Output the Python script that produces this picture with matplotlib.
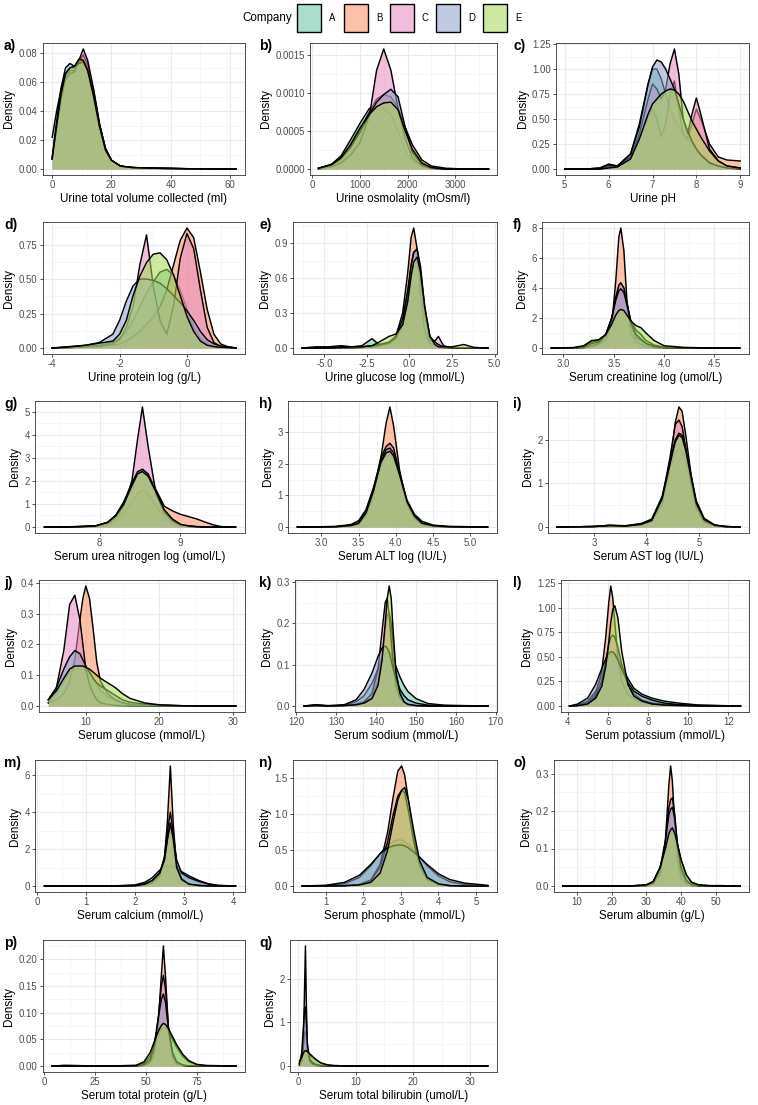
# density panels per company, ggplot-like layout
import numpy as np
import matplotlib
matplotlib.use('Agg')
import matplotlib.pyplot as plt
from matplotlib.patches import Rectangle

plt.rcParams['font.family'] = ['Liberation Sans', 'DejaVu Sans']

companies = ['A', 'B', 'C', 'D', 'E']
fill_colours = ['#66C2A5', '#FC8D62', '#E78AC3', '#8DA0CB', '#A6D854']

# a) urine volume
vol_x = [0, 1.5, 3, 4.5, 6, 7.5, 9, 10.5, 12, 14, 16, 18, 20, 23, 27, 35, 45, 62]
vol_y = [
    [0.022, 0.040, 0.055, 0.066, 0.070, 0.070, 0.074, 0.076, 0.070, 0.052, 0.030, 0.014, 0.006, 0.002, 0.001, 0.0005, 0.0002, 0.0],
    [0.007, 0.030, 0.050, 0.064, 0.068, 0.068, 0.074, 0.079, 0.072, 0.054, 0.031, 0.014, 0.006, 0.002, 0.001, 0.0005, 0.0002, 0.0],
    [0.007, 0.028, 0.048, 0.062, 0.066, 0.067, 0.075, 0.083, 0.075, 0.055, 0.031, 0.014, 0.006, 0.002, 0.001, 0.0005, 0.0002, 0.0],
    [0.008, 0.033, 0.056, 0.070, 0.073, 0.071, 0.073, 0.074, 0.068, 0.051, 0.030, 0.014, 0.006, 0.002, 0.001, 0.0005, 0.0002, 0.0],
    [0.007, 0.030, 0.052, 0.066, 0.070, 0.071, 0.076, 0.075, 0.068, 0.050, 0.029, 0.013, 0.006, 0.002, 0.001, 0.0005, 0.0002, 0.0],
]

# b) urine osmolality
osm_x = [130, 400, 600, 800, 1000, 1200, 1350, 1500, 1650, 1800, 1950, 2100, 2300, 2500, 2800, 3200, 3700]
osm_y = [
    [0.00001, 0.00006, 0.00017, 0.00038, 0.00060, 0.00080, 0.00078, 0.00080, 0.00072, 0.00050, 0.00025, 0.00010, 0.00003, 0.00001, 0.0, 0.0, 0.0],
    [0.00001, 0.00005, 0.00014, 0.00030, 0.00052, 0.00075, 0.00092, 0.00098, 0.00095, 0.00080, 0.00055, 0.00032, 0.00012, 0.00004, 0.00001, 0.0, 0.0],
    [0.0, 0.00003, 0.00008, 0.00018, 0.00035, 0.00070, 0.00130, 0.00158, 0.00130, 0.00080, 0.00040, 0.00015, 0.00004, 0.00001, 0.0, 0.0, 0.0],
    [0.00001, 0.00005, 0.00013, 0.00028, 0.00048, 0.00072, 0.00088, 0.00098, 0.00105, 0.00095, 0.00055, 0.00022, 0.00006, 0.00001, 0.0, 0.0, 0.0],
    [0.00001, 0.00006, 0.00015, 0.00032, 0.00054, 0.00072, 0.00082, 0.00087, 0.00088, 0.00078, 0.00050, 0.00026, 0.00008, 0.00002, 0.0, 0.0, 0.0],
]

# c) urine pH
ph_x = [5.0, 5.5, 5.8, 6.0, 6.2, 6.5, 6.7, 6.9, 7.0, 7.1, 7.2, 7.3, 7.4, 7.5, 7.6, 7.7, 7.8, 7.9, 8.0, 8.1, 8.3, 8.5, 8.7, 9.0]
ph_y = [
    [0, 0, 0.01, 0.05, 0.03, 0.15, 0.45, 0.85, 1.0, 1.0, 0.9, 0.75, 0.6, 0.5, 0.42, 0.35, 0.3, 0.25, 0.2, 0.15, 0.07, 0.03, 0.01, 0.0],
    [0, 0, 0.0, 0.02, 0.03, 0.12, 0.3, 0.52, 0.6, 0.5, 0.32, 0.45, 0.75, 0.88, 0.6, 0.35, 0.3, 0.45, 0.6, 0.5, 0.25, 0.12, 0.09, 0.08],
    [0, 0, 0, 0.02, 0.03, 0.12, 0.35, 0.7, 0.85, 0.8, 0.7, 0.8, 1.05, 1.2, 0.95, 0.5, 0.35, 0.55, 0.71, 0.55, 0.2, 0.08, 0.03, 0.01],
    [0, 0, 0.01, 0.04, 0.03, 0.15, 0.42, 0.85, 1.02, 1.09, 1.07, 1.0, 0.9, 0.8, 0.65, 0.5, 0.38, 0.28, 0.2, 0.14, 0.06, 0.03, 0.01, 0.0],
    [0, 0, 0, 0.01, 0.02, 0.1, 0.3, 0.55, 0.65, 0.7, 0.75, 0.78, 0.8, 0.79, 0.75, 0.68, 0.58, 0.48, 0.4, 0.32, 0.18, 0.08, 0.03, 0.01],
]

# d) urine protein log
prot_x = [-4.0, -3.5, -3.0, -2.6, -2.2, -2.0, -1.8, -1.6, -1.4, -1.2, -1.0, -0.8, -0.6, -0.4, -0.2, 0.0, 0.2, 0.4, 0.6, 0.8, 1.0, 1.2, 1.45]
prot_y = [
    [0, 0.005, 0.01, 0.02, 0.04, 0.07, 0.12, 0.2, 0.3, 0.4, 0.48, 0.55, 0.57, 0.53, 0.42, 0.28, 0.15, 0.07, 0.03, 0.01, 0.005, 0.003, 0],
    [0, 0.003, 0.008, 0.015, 0.02, 0.03, 0.05, 0.08, 0.12, 0.17, 0.22, 0.3, 0.42, 0.6, 0.78, 0.87, 0.8, 0.55, 0.28, 0.1, 0.03, 0.01, 0],
    [0, 0.003, 0.008, 0.012, 0.03, 0.06, 0.15, 0.3, 0.6, 0.82, 0.45, 0.2, 0.1, 0.3, 0.65, 0.83, 0.72, 0.42, 0.15, 0.04, 0.01, 0.005, 0],
    [0, 0.01, 0.02, 0.04, 0.1, 0.2, 0.34, 0.45, 0.5, 0.5, 0.49, 0.47, 0.43, 0.38, 0.33, 0.27, 0.2, 0.12, 0.06, 0.03, 0.015, 0.01, 0],
    [0, 0.008, 0.02, 0.035, 0.05, 0.1, 0.2, 0.38, 0.52, 0.62, 0.68, 0.69, 0.64, 0.53, 0.38, 0.23, 0.12, 0.05, 0.02, 0.01, 0.005, 0.003, 0],
]

# e) urine glucose log
uglu_x = [-6.3, -5.5, -4.8, -4.0, -3.4, -2.8, -2.2, -1.8, -1.2, -0.8, -0.4, -0.1, 0.1, 0.25, 0.45, 0.65, 0.9, 1.2, 1.5, 1.7, 2.0, 2.5, 3.2, 3.8, 4.6]
uglu_y = [
    [0, 0.01, 0.01, 0.02, 0.01, 0.02, 0.08, 0.03, 0.04, 0.08, 0.2, 0.4, 0.6, 0.72, 0.75, 0.6, 0.3, 0.08, 0.02, 0.01, 0.0, 0, 0, 0, 0],
    [0, 0, 0, 0, 0, 0.005, 0.01, 0.02, 0.04, 0.1, 0.3, 0.65, 0.95, 1.03, 0.85, 0.45, 0.15, 0.04, 0.02, 0.01, 0.005, 0, 0, 0, 0],
    [0, 0, 0, 0, 0, 0.005, 0.01, 0.02, 0.04, 0.08, 0.2, 0.45, 0.7, 0.82, 0.85, 0.65, 0.3, 0.07, 0.06, 0.1, 0.02, 0, 0, 0, 0],
    [0, 0.005, 0.005, 0.01, 0.01, 0.01, 0.02, 0.03, 0.05, 0.1, 0.25, 0.5, 0.72, 0.82, 0.85, 0.7, 0.35, 0.1, 0.05, 0.03, 0.01, 0, 0, 0, 0],
    [0, 0, 0, 0.005, 0.01, 0.01, 0.02, 0.05, 0.1, 0.12, 0.2, 0.4, 0.62, 0.74, 0.78, 0.65, 0.35, 0.1, 0.03, 0.01, 0.01, 0.01, 0.03, 0.005, 0],
]

# f) serum creatinine log
crea_x = [2.88, 3.1, 3.2, 3.28, 3.35, 3.42, 3.48, 3.52, 3.55, 3.57, 3.6, 3.63, 3.67, 3.72, 3.77, 3.82, 3.9, 4.0, 4.2, 4.4, 4.75]
crea_y = [
    [0, 0.02, 0.1, 0.4, 0.5, 0.9, 2.0, 3.3, 4.1, 4.3, 4.0, 3.0, 1.8, 1.2, 0.9, 0.5, 0.2, 0.05, 0.01, 0, 0],
    [0, 0, 0.02, 0.1, 0.2, 0.5, 1.6, 4.5, 7.4, 8.0, 6.5, 3.2, 1.0, 0.4, 0.25, 0.1, 0.03, 0.01, 0, 0, 0],
    [0, 0, 0.02, 0.15, 0.3, 0.8, 2.0, 3.4, 4.2, 4.35, 4.0, 3.0, 1.6, 0.7, 0.5, 0.3, 0.1, 0.02, 0, 0, 0],
    [0, 0.01, 0.05, 0.3, 0.4, 0.9, 2.0, 3.2, 3.8, 3.95, 3.7, 2.9, 1.7, 0.9, 0.6, 0.3, 0.1, 0.03, 0.01, 0, 0],
    [0, 0.03, 0.15, 0.5, 0.55, 0.9, 1.6, 2.2, 2.5, 2.57, 2.5, 2.2, 1.8, 1.5, 1.35, 1.0, 0.5, 0.15, 0.04, 0.01, 0],
]

# g) serum urea nitrogen log
urea_x = [7.32, 7.6, 7.8, 7.95, 8.1, 8.2, 8.3, 8.4, 8.47, 8.53, 8.6, 8.7, 8.8, 8.9, 9.0, 9.1, 9.2, 9.3, 9.4, 9.5, 9.68]
urea_y = [
    [0, 0, 0.01, 0.02, 0.08, 0.25, 0.6, 1.1, 1.45, 1.6, 1.45, 0.9, 0.4, 0.15, 0.05, 0.02, 0.01, 0, 0, 0, 0],
    [0, 0.01, 0.03, 0.05, 0.2, 0.5, 1.0, 1.7, 2.3, 2.5, 2.3, 1.6, 0.9, 0.7, 0.55, 0.45, 0.35, 0.22, 0.1, 0.02, 0],
    [0, 0, 0.02, 0.04, 0.15, 0.4, 0.9, 2.0, 3.8, 5.2, 3.5, 1.4, 0.6, 0.25, 0.08, 0.03, 0.01, 0, 0, 0, 0],
    [0, 0, 0.02, 0.04, 0.2, 0.5, 1.1, 1.9, 2.4, 2.5, 2.3, 1.5, 0.7, 0.3, 0.1, 0.04, 0.01, 0, 0, 0, 0],
    [0, 0, 0.02, 0.05, 0.2, 0.5, 1.0, 1.8, 2.3, 2.4, 2.2, 1.5, 0.75, 0.35, 0.12, 0.05, 0.02, 0, 0, 0, 0],
]

# h) serum ALT log
alt_x = [2.68, 3.0, 3.2, 3.4, 3.5, 3.6, 3.7, 3.8, 3.87, 3.92, 3.97, 4.05, 4.15, 4.25, 4.35, 4.5, 4.7, 5.0, 5.23]
alt_y = [
    [0, 0, 0.01, 0.05, 0.15, 0.5, 1.2, 2.0, 2.25, 2.3, 2.15, 1.6, 0.8, 0.35, 0.12, 0.03, 0.01, 0, 0],
    [0, 0, 0.01, 0.03, 0.08, 0.35, 1.0, 2.2, 3.3, 3.8, 3.2, 1.8, 0.7, 0.25, 0.08, 0.02, 0.01, 0, 0],
    [0, 0, 0.01, 0.04, 0.1, 0.45, 1.2, 2.2, 2.55, 2.65, 2.5, 1.7, 0.8, 0.3, 0.1, 0.03, 0.01, 0, 0],
    [0, 0.01, 0.02, 0.08, 0.2, 0.55, 1.25, 2.1, 2.45, 2.5, 2.35, 1.7, 0.85, 0.4, 0.18, 0.06, 0.02, 0.01, 0],
    [0, 0, 0.01, 0.05, 0.12, 0.45, 1.15, 2.05, 2.35, 2.4, 2.25, 1.65, 0.8, 0.35, 0.12, 0.04, 0.01, 0, 0],
]

# i) serum AST log
ast_x = [2.3, 3.0, 3.3, 3.6, 3.9, 4.1, 4.3, 4.45, 4.55, 4.62, 4.68, 4.75, 4.85, 4.95, 5.1, 5.3, 5.5, 5.78]
ast_y = [
    [0, 0.01, 0.03, 0.02, 0.06, 0.15, 0.6, 1.3, 1.7, 1.8, 1.75, 1.5, 1.0, 0.5, 0.15, 0.04, 0.01, 0],
    [0, 0.01, 0.03, 0.02, 0.05, 0.12, 0.5, 1.4, 2.4, 2.75, 2.65, 2.1, 1.2, 0.5, 0.12, 0.03, 0.01, 0],
    [0, 0.01, 0.04, 0.02, 0.07, 0.15, 0.65, 1.6, 2.35, 2.45, 2.3, 1.8, 1.0, 0.45, 0.12, 0.03, 0.01, 0],
    [0, 0.01, 0.04, 0.03, 0.08, 0.18, 0.7, 1.5, 2.0, 2.15, 2.1, 1.8, 1.2, 0.6, 0.2, 0.05, 0.01, 0],
    [0, 0.01, 0.03, 0.02, 0.06, 0.15, 0.65, 1.45, 1.95, 2.1, 2.05, 1.75, 1.15, 0.55, 0.17, 0.04, 0.01, 0],
]

# j) serum glucose
sglu_x = [4.9, 6, 7, 7.8, 8.5, 9.2, 9.6, 10, 10.5, 11, 11.5, 12, 13, 14, 15, 16, 18, 20, 23, 26, 30.4]
sglu_y = [
    [0.01, 0.04, 0.08, 0.11, 0.12, 0.12, 0.12, 0.12, 0.11, 0.09, 0.07, 0.05, 0.03, 0.02, 0.01, 0.005, 0.002, 0.001, 0, 0, 0],
    [0.01, 0.02, 0.04, 0.08, 0.15, 0.28, 0.35, 0.39, 0.35, 0.25, 0.14, 0.08, 0.04, 0.02, 0.01, 0.005, 0.002, 0.001, 0, 0, 0],
    [0.02, 0.06, 0.18, 0.33, 0.36, 0.28, 0.2, 0.12, 0.07, 0.04, 0.02, 0.01, 0.005, 0.002, 0.001, 0, 0, 0, 0, 0, 0],
    [0.02, 0.06, 0.12, 0.16, 0.18, 0.17, 0.15, 0.13, 0.11, 0.09, 0.075, 0.065, 0.05, 0.035, 0.02, 0.012, 0.006, 0.003, 0.001, 0, 0],
    [0.02, 0.05, 0.09, 0.12, 0.13, 0.13, 0.13, 0.125, 0.12, 0.11, 0.1, 0.09, 0.075, 0.06, 0.04, 0.025, 0.01, 0.004, 0.001, 0.0005, 0],
]

# k) serum sodium
sod_x = [122, 125, 128, 132, 135, 137, 139, 140.5, 141.5, 142.3, 142.8, 143.3, 143.8, 144.3, 145, 146, 147, 148, 150, 153, 157, 162, 168]
sod_y = [
    [0, 0.003, 0, 0.002, 0.01, 0.025, 0.055, 0.09, 0.115, 0.125, 0.13, 0.13, 0.125, 0.115, 0.095, 0.07, 0.05, 0.035, 0.018, 0.006, 0.002, 0.001, 0],
    [0, 0.001, 0, 0.001, 0.003, 0.008, 0.02, 0.06, 0.12, 0.19, 0.22, 0.225, 0.2, 0.15, 0.08, 0.03, 0.01, 0.004, 0.001, 0, 0, 0, 0],
    [0, 0.001, 0, 0.001, 0.004, 0.01, 0.03, 0.09, 0.18, 0.25, 0.26, 0.22, 0.16, 0.1, 0.05, 0.02, 0.008, 0.003, 0.001, 0, 0, 0, 0],
    [0, 0.003, 0.001, 0.003, 0.015, 0.04, 0.08, 0.12, 0.14, 0.145, 0.14, 0.13, 0.11, 0.09, 0.065, 0.04, 0.025, 0.015, 0.007, 0.002, 0.001, 0, 0],
    [0, 0.001, 0, 0.001, 0.003, 0.007, 0.018, 0.05, 0.11, 0.2, 0.26, 0.29, 0.26, 0.18, 0.08, 0.03, 0.01, 0.004, 0.001, 0, 0, 0, 0],
]

# l) serum potassium
pot_x = [4.1, 4.5, 5.0, 5.4, 5.7, 5.9, 6.05, 6.15, 6.25, 6.35, 6.5, 6.7, 7.0, 7.3, 7.7, 8.2, 8.8, 9.5, 10.5, 11.5, 12.6]
pot_y = [
    [0, 0.01, 0.05, 0.15, 0.3, 0.42, 0.5, 0.53, 0.53, 0.52, 0.48, 0.4, 0.28, 0.18, 0.12, 0.08, 0.05, 0.03, 0.01, 0.005, 0],
    [0, 0.005, 0.03, 0.12, 0.35, 0.7, 1.05, 1.22, 1.1, 0.85, 0.5, 0.25, 0.12, 0.07, 0.04, 0.02, 0.01, 0.005, 0, 0, 0],
    [0, 0.005, 0.03, 0.1, 0.25, 0.45, 0.62, 0.7, 0.72, 0.7, 0.6, 0.42, 0.22, 0.12, 0.06, 0.03, 0.015, 0.008, 0.004, 0.002, 0],
    [0, 0.02, 0.08, 0.22, 0.38, 0.48, 0.54, 0.55, 0.55, 0.53, 0.47, 0.37, 0.24, 0.15, 0.1, 0.06, 0.03, 0.015, 0.006, 0.003, 0],
    [0, 0.003, 0.02, 0.08, 0.2, 0.4, 0.65, 0.85, 0.98, 1.02, 0.9, 0.55, 0.22, 0.1, 0.05, 0.02, 0.01, 0.005, 0, 0, 0],
]

# m) serum calcium
cal_x = [0.15, 1.0, 1.6, 2.0, 2.2, 2.35, 2.5, 2.6, 2.66, 2.72, 2.78, 2.85, 2.95, 3.1, 3.3, 3.5, 3.7, 4.05]
cal_y = [
    [0, 0, 0.01, 0.06, 0.2, 0.45, 0.85, 1.05, 1.1, 1.1, 1.05, 0.95, 0.78, 0.55, 0.3, 0.12, 0.03, 0],
    [0, 0, 0, 0.01, 0.05, 0.15, 0.5, 1.5, 3.5, 6.5, 3.3, 1.0, 0.3, 0.08, 0.02, 0.005, 0, 0],
    [0, 0, 0, 0.01, 0.06, 0.2, 0.6, 1.6, 3.0, 4.0, 2.9, 1.1, 0.4, 0.1, 0.03, 0.01, 0, 0],
    [0, 0, 0.005, 0.03, 0.12, 0.3, 0.7, 1.5, 2.6, 3.4, 2.6, 1.4, 0.7, 0.45, 0.25, 0.1, 0.03, 0],
    [0, 0, 0, 0.02, 0.1, 0.3, 0.7, 1.4, 2.5, 3.4, 2.5, 1.0, 0.35, 0.1, 0.03, 0.01, 0, 0],
]

# n) serum phosphate
pho_x = [0.38, 1.0, 1.5, 1.9, 2.2, 2.45, 2.65, 2.8, 2.92, 3.02, 3.1, 3.2, 3.35, 3.5, 3.7, 4.0, 4.3, 4.7, 5.31]
pho_y = [
    [0, 0.005, 0.03, 0.12, 0.28, 0.45, 0.57, 0.62, 0.64, 0.64, 0.62, 0.58, 0.5, 0.4, 0.28, 0.14, 0.06, 0.02, 0],
    [0, 0, 0.005, 0.02, 0.08, 0.3, 0.75, 1.25, 1.6, 1.67, 1.55, 1.2, 0.65, 0.3, 0.1, 0.02, 0.005, 0, 0],
    [0, 0, 0.005, 0.02, 0.08, 0.26, 0.62, 1.0, 1.25, 1.33, 1.3, 1.05, 0.6, 0.28, 0.09, 0.02, 0.005, 0, 0],
    [0, 0.01, 0.05, 0.15, 0.3, 0.45, 0.53, 0.56, 0.57, 0.57, 0.56, 0.53, 0.47, 0.4, 0.3, 0.17, 0.09, 0.04, 0.01],
    [0, 0, 0.003, 0.015, 0.05, 0.18, 0.5, 0.9, 1.2, 1.33, 1.37, 1.2, 0.75, 0.35, 0.12, 0.03, 0.005, 0, 0],
]

# o) serum albumin
alb_x = [6, 15, 25, 30, 32, 34, 35.5, 36.5, 37, 37.5, 38.2, 39, 40, 41.5, 43, 45, 48, 51, 57]
alb_y = [
    [0, 0, 0, 0.003, 0.012, 0.05, 0.1, 0.14, 0.15, 0.15, 0.14, 0.11, 0.07, 0.03, 0.01, 0.003, 0.001, 0.001, 0],
    [0, 0, 0, 0.001, 0.005, 0.03, 0.12, 0.27, 0.32, 0.28, 0.16, 0.07, 0.02, 0.005, 0.001, 0, 0, 0, 0],
    [0, 0, 0, 0.001, 0.006, 0.04, 0.12, 0.21, 0.23, 0.235, 0.19, 0.1, 0.04, 0.01, 0.003, 0.001, 0, 0.001, 0],
    [0, 0, 0, 0.002, 0.01, 0.05, 0.12, 0.19, 0.205, 0.21, 0.18, 0.11, 0.05, 0.015, 0.004, 0.001, 0, 0, 0],
    [0, 0, 0, 0.003, 0.012, 0.05, 0.1, 0.14, 0.15, 0.155, 0.14, 0.11, 0.07, 0.03, 0.01, 0.003, 0.001, 0, 0],
]

# p) serum total protein
tp_x = [4, 10, 30, 45, 49, 52, 54, 56, 57.5, 58.5, 59.5, 61, 63, 65, 68, 71, 75, 80, 94]
tp_y = [
    [0, 0.001, 0, 0.001, 0.005, 0.018, 0.035, 0.055, 0.068, 0.072, 0.072, 0.065, 0.05, 0.035, 0.018, 0.008, 0.002, 0, 0],
    [0, 0.001, 0, 0, 0.001, 0.005, 0.02, 0.08, 0.17, 0.225, 0.17, 0.07, 0.015, 0.003, 0.001, 0, 0, 0, 0],
    [0, 0, 0, 0, 0.002, 0.008, 0.03, 0.09, 0.15, 0.17, 0.145, 0.07, 0.02, 0.005, 0.001, 0, 0, 0, 0],
    [0, 0, 0, 0, 0.003, 0.012, 0.04, 0.09, 0.125, 0.135, 0.12, 0.07, 0.025, 0.008, 0.002, 0, 0, 0, 0],
    [0, 0, 0, 0.001, 0.008, 0.025, 0.045, 0.065, 0.076, 0.08, 0.078, 0.07, 0.055, 0.04, 0.022, 0.01, 0.003, 0.001, 0],
]

# q) serum total bilirubin
bil_x = [0.2, 0.6, 0.9, 1.1, 1.25, 1.4, 1.6, 2.0, 2.5, 3.0, 3.5, 4.0, 5.0, 6.0, 8, 12, 20, 33]
bil_y = [
    [0.05, 0.15, 0.25, 0.3, 0.32, 0.32, 0.3, 0.25, 0.2, 0.15, 0.1, 0.06, 0.02, 0.01, 0.003, 0.001, 0, 0],
    [0.05, 0.2, 0.5, 0.75, 0.8, 0.6, 0.35, 0.15, 0.08, 0.04, 0.02, 0.01, 0.003, 0.001, 0, 0, 0, 0],
    [0.02, 0.1, 0.5, 1.8, 2.75, 1.5, 0.4, 0.1, 0.04, 0.02, 0.01, 0.005, 0, 0, 0, 0, 0, 0],
    [0.05, 0.3, 0.9, 1.3, 1.35, 1.0, 0.5, 0.15, 0.06, 0.03, 0.015, 0.01, 0.003, 0.001, 0, 0, 0, 0],
    [0.1, 0.2, 0.3, 0.34, 0.35, 0.35, 0.33, 0.28, 0.22, 0.16, 0.11, 0.07, 0.03, 0.012, 0.004, 0.001, 0, 0],
]

# tag, x label, x grid, densities, x tick labels, y tick labels
panels = [
    ('a)', 'Urine total volume collected (ml)', vol_x, vol_y, ['0', '20', '40', '60'], ['0.00', '0.02', '0.04', '0.06', '0.08']),
    ('b)', 'Urine osmolality (mOsm/l)', osm_x, osm_y, ['0', '1000', '2000', '3000'], ['0.0000', '0.0005', '0.0010', '0.0015']),
    ('c)', 'Urine pH', ph_x, ph_y, ['5', '6', '7', '8', '9'], ['0.00', '0.25', '0.50', '0.75', '1.00', '1.25']),
    ('d)', 'Urine protein log (g/L)', prot_x, prot_y, ['-4', '-2', '0'], ['0.00', '0.25', '0.50', '0.75']),
    ('e)', 'Urine glucose log (mmol/L)', uglu_x, uglu_y, ['-5.0', '-2.5', '0.0', '2.5', '5.0'], ['0.0', '0.3', '0.6', '0.9']),
    ('f)', 'Serum creatinine log (umol/L)', crea_x, crea_y, ['3.0', '3.5', '4.0', '4.5'], ['0', '2', '4', '6', '8']),
    ('g)', 'Serum urea nitrogen log (umol/L)', urea_x, urea_y, ['8', '9'], ['0', '1', '2', '3', '4', '5']),
    ('h)', 'Serum ALT log (IU/L)', alt_x, alt_y, ['3.0', '3.5', '4.0', '4.5', '5.0'], ['0', '1', '2', '3', '4']),
    ('i)', 'Serum AST log (IU/L)', ast_x, ast_y, ['3', '4', '5'], ['0', '1', '2']),
    ('j)', 'Serum glucose (mmol/L)', sglu_x, sglu_y, ['10', '20', '30'], ['0.0', '0.1', '0.2', '0.3', '0.4']),
    ('k)', 'Serum sodium (mmol/L)', sod_x, sod_y, ['120', '130', '140', '150', '160', '170'], ['0.0', '0.1', '0.2', '0.3']),
    ('l)', 'Serum potassium (mmol/L)', pot_x, pot_y, ['4', '6', '8', '10', '12'], ['0.00', '0.25', '0.50', '0.75', '1.00', '1.25']),
    ('m)', 'Serum calcium (mmol/L)', cal_x, cal_y, ['0', '1', '2', '3', '4'], ['0', '2', '4', '6']),
    ('n)', 'Serum phosphate (mmol/L)', pho_x, pho_y, ['1', '2', '3', '4', '5'], ['0.0', '0.5', '1.0', '1.5']),
    ('o)', 'Serum albumin (g/L)', alb_x, alb_y, ['10', '20', '30', '40', '50'], ['0.0', '0.1', '0.2', '0.3']),
    ('p)', 'Serum total protein (g/L)', tp_x, tp_y, ['0', '25', '50', '75'], ['0.00', '0.05', '0.10', '0.15', '0.20']),
    ('q)', 'Serum total bilirubin (umol/L)', bil_x, bil_y, ['0', '10', '20', '30'], ['0', '1', '2']),
]

# ---- layout (pixels of the 758x1105 canvas) ----
W, H = 758, 1105
row_tops = [43, 222, 401, 580, 760, 940]
box_h = 132
box_lefts = [43, 310, 556, 43, 293, 542, 35, 288, 548, 39, 295, 561, 35, 293, 554, 43, 290]
col_rights = [245, 497, 749]
tag_x = [4, 259, 513]

TITLE_SIZE = 8.4
TICK_SIZE = 6.9
FILL_ALPHA = 0.55


def minor_breaks(major, lo, hi):
    step = major[1] - major[0]
    ext = [major[0] - step] + list(major) + [major[-1] + step]
    mids = [(a + b) / 2 for a, b in zip(ext[:-1], ext[1:])]
    return [m for m in mids if lo <= m <= hi]


def draw_panel(ax, x, ys, xticks, yticks, xlabel):
    x = np.asarray(x, dtype=float)
    for i, (y, col) in enumerate(zip(ys, fill_colours)):
        ax.fill_between(x, 0, y, color=col, alpha=FILL_ALPHA, lw=0, zorder=2 + 2 * i)
        ax.plot(x, y, color='black', lw=1.05, zorder=3 + 2 * i, solid_joinstyle='round')

    # ggplot-style 5% expansion on both axes
    xr = x.max() - x.min()
    ymax = max(max(y) for y in ys)
    xlim = (x.min() - 0.05 * xr, x.max() + 0.05 * xr)
    ylim = (-0.05 * ymax, 1.05 * ymax)

    xt = [float(s) for s in xticks]
    yt = [float(s) for s in yticks]
    ax.set_xticks(xt)
    ax.set_xticklabels(xticks)
    ax.set_yticks(yt)
    ax.set_yticklabels(yticks)
    ax.set_xticks(minor_breaks(xt, *xlim), minor=True)
    ax.set_yticks(minor_breaks(yt, *ylim), minor=True)
    ax.set_xlim(*xlim)
    ax.set_ylim(*ylim)

    ax.grid(which='major', color='#EBEBEB', lw=0.8)
    ax.grid(which='minor', color='#F2F2F2', lw=0.45)
    ax.set_axisbelow(True)
    ax.tick_params(which='major', length=2.3, width=0.6, color='#333333',
                   labelsize=TICK_SIZE, labelcolor='#4D4D4D', pad=1.5)
    ax.tick_params(which='minor', length=0)
    for sp in ax.spines.values():
        sp.set_color('#333333')
        sp.set_linewidth(0.6)
    ax.set_xlabel(xlabel, fontsize=TITLE_SIZE, labelpad=2.2)
    ax.set_ylabel('Density', fontsize=TITLE_SIZE, labelpad=2.5)


fig = plt.figure(figsize=(W / 100, H / 100), dpi=100)
fig.patch.set_facecolor('white')

for k, (tag, xlabel, x, ys, xticks, yticks) in enumerate(panels):
    row, col = divmod(k, 3)
    top = row_tops[row]
    left = box_lefts[k]
    right = col_rights[col]
    ax = fig.add_axes([left / W, 1 - (top + box_h) / H, (right - left) / W, box_h / H])
    draw_panel(ax, x, ys, xticks, yticks, xlabel)
    fig.text(tag_x[col] / W, 1 - (top + 3) / H, tag, fontsize=10, fontweight='bold',
             ha='left', va='center')

# legend across the top
fig.text(292 / W, 1 - 18 / H, 'Company', fontsize=TITLE_SIZE, ha='right', va='center')
key_w, key_h, key_top = 24, 28, 4
key_lefts = [297, 344, 390, 436, 483]
for name, col, kl in zip(companies, fill_colours, key_lefts):
    fig.add_artist(Rectangle((kl / W, 1 - (key_top + key_h) / H), key_w / W, key_h / H,
                             transform=fig.transFigure, facecolor=col, alpha=FILL_ALPHA, lw=0))
    fig.add_artist(Rectangle((kl / W, 1 - (key_top + key_h) / H), key_w / W, key_h / H,
                             transform=fig.transFigure, facecolor='none', edgecolor='black', lw=1.0))
    fig.text((kl + key_w + 8) / W, 1 - 18 / H, name, fontsize=TICK_SIZE, ha='left', va='center')

fig.savefig('out.png', dpi=100)
